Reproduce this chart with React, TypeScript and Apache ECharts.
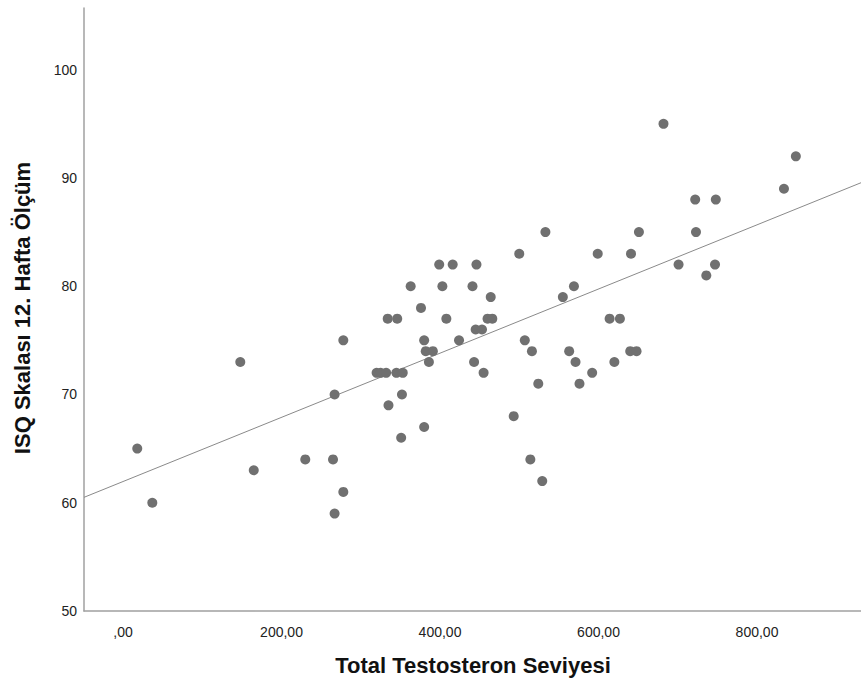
import React, { useEffect, useRef } from "react";
import * as echarts from "echarts";

// Total Testosteron Seviyesi (x) and ISQ Skalası 12. Hafta Ölçüm (y)
const testosterone = [
  18, 37, 148, 165, 230, 265, 267, 267, 278, 278,
  320, 325, 332, 334, 346, 335, 345, 353, 351, 352,
  363, 376, 380, 380, 382, 391, 386, 399, 403, 408,
  416, 424, 441, 443, 445, 446, 453, 455, 460, 466,
  464, 493, 500, 507, 514, 516, 524, 529, 533, 555,
  563, 569, 571, 576, 592, 599, 614, 620, 627, 640,
  641, 648, 651, 682, 701, 722, 723, 736, 747, 748,
  834, 849,
];
const isqScore = [
  65, 60, 73, 63, 64, 64, 70, 59, 75, 61,
  72, 72, 72, 77, 77, 69, 72, 72, 66, 70,
  80, 78, 67, 75, 74, 74, 73, 82, 80, 77,
  82, 75, 80, 73, 76, 82, 76, 72, 77, 77,
  79, 68, 83, 75, 64, 74, 71, 62, 85, 79,
  74, 80, 73, 71, 72, 83, 77, 73, 77, 74,
  83, 74, 85, 95, 82, 88, 85, 81, 82, 88,
  89, 92,
];

// Fit line: endpoints at the plot edges
const fitLineX = [-49.2, 931.2];
const fitLineY = [60.5, 89.56];

const xTickValues = [0, 200, 400, 600, 800];
const xTickLabels = [",00", "200,00", "400,00", "600,00", "800,00"];
const yTickValues = [50, 60, 70, 80, 90, 100];

const xTitle = "Total Testosteron Seviyesi";
const yTitle = "ISQ Skalası 12. Hafta Ölçüm";

const FONT = "'Liberation Sans', Arial, sans-serif";

export default function App() {
  const ref = useRef<HTMLDivElement>(null);

  useEffect(() => {
    if (!ref.current) return;
    const chart = echarts.init(ref.current, undefined, { renderer: "svg" });
    const points = testosterone.map((x, i) => [x, isqScore[i]]);
    const fitLine = fitLineX.map((x, i) => [x, fitLineY[i]]);
    chart.setOption({
      animation: false,
      backgroundColor: "#ffffff",
      textStyle: { fontFamily: FONT },
      grid: {
        left: 84,
        right: 0,
        top: 8,
        bottom: 73,
        containLabel: false,
        outerBoundsMode: "none",
      },
      xAxis: {
        type: "value",
        min: -49.2,
        max: 931.2,
        axisLine: { show: true, onZero: false, lineStyle: { color: "#a0a0a0", width: 1.5 } },
        axisTick: { show: false },
        splitLine: { show: false },
        axisLabel: {
          customValues: xTickValues,
          formatter: (v: number) => {
            const i = xTickValues.indexOf(Math.round(v));
            return i >= 0 ? xTickLabels[i] : "";
          },
          color: "#222",
          fontSize: 14,
          fontFamily: FONT,
          margin: 14,
        },
      },
      yAxis: {
        type: "value",
        min: 50,
        max: 105.7,
        axisLine: { show: true, onZero: false, lineStyle: { color: "#a0a0a0", width: 1.5 } },
        axisTick: { show: false },
        splitLine: { show: false },
        axisLabel: {
          customValues: yTickValues,
          color: "#222",
          fontSize: 14,
          fontFamily: FONT,
          margin: 7,
        },
      },
      graphic: [
        {
          type: "text",
          x: 473,
          y: 665,
          style: {
            text: xTitle,
            fontSize: 22,
            fontWeight: "bold",
            fontFamily: FONT,
            fill: "#111",
            align: "center",
            verticalAlign: "middle",
          },
        },
        {
          type: "text",
          x: 22,
          y: 308,
          rotation: Math.PI / 2,
          style: {
            text: yTitle,
            fontSize: 22,
            fontWeight: "bold",
            fontFamily: FONT,
            fill: "#111",
            align: "center",
            verticalAlign: "middle",
          },
        },
      ],
      series: [
        {
          type: "line",
          data: fitLine,
          symbol: "none",
          lineStyle: { color: "#8a8a8a", width: 1 },
          silent: true,
          z: 1,
        },
        {
          type: "scatter",
          data: points,
          symbol: "circle",
          symbolSize: 10,
          itemStyle: { color: "#707070", opacity: 1 },
          z: 2,
        },
      ],
    });
    return () => chart.dispose();
  }, []);

  return (
    <div
      ref={ref}
      style={{ position: "fixed", left: 0, top: 0, width: 861, height: 684, background: "#fff" }}
    />
  );
}
